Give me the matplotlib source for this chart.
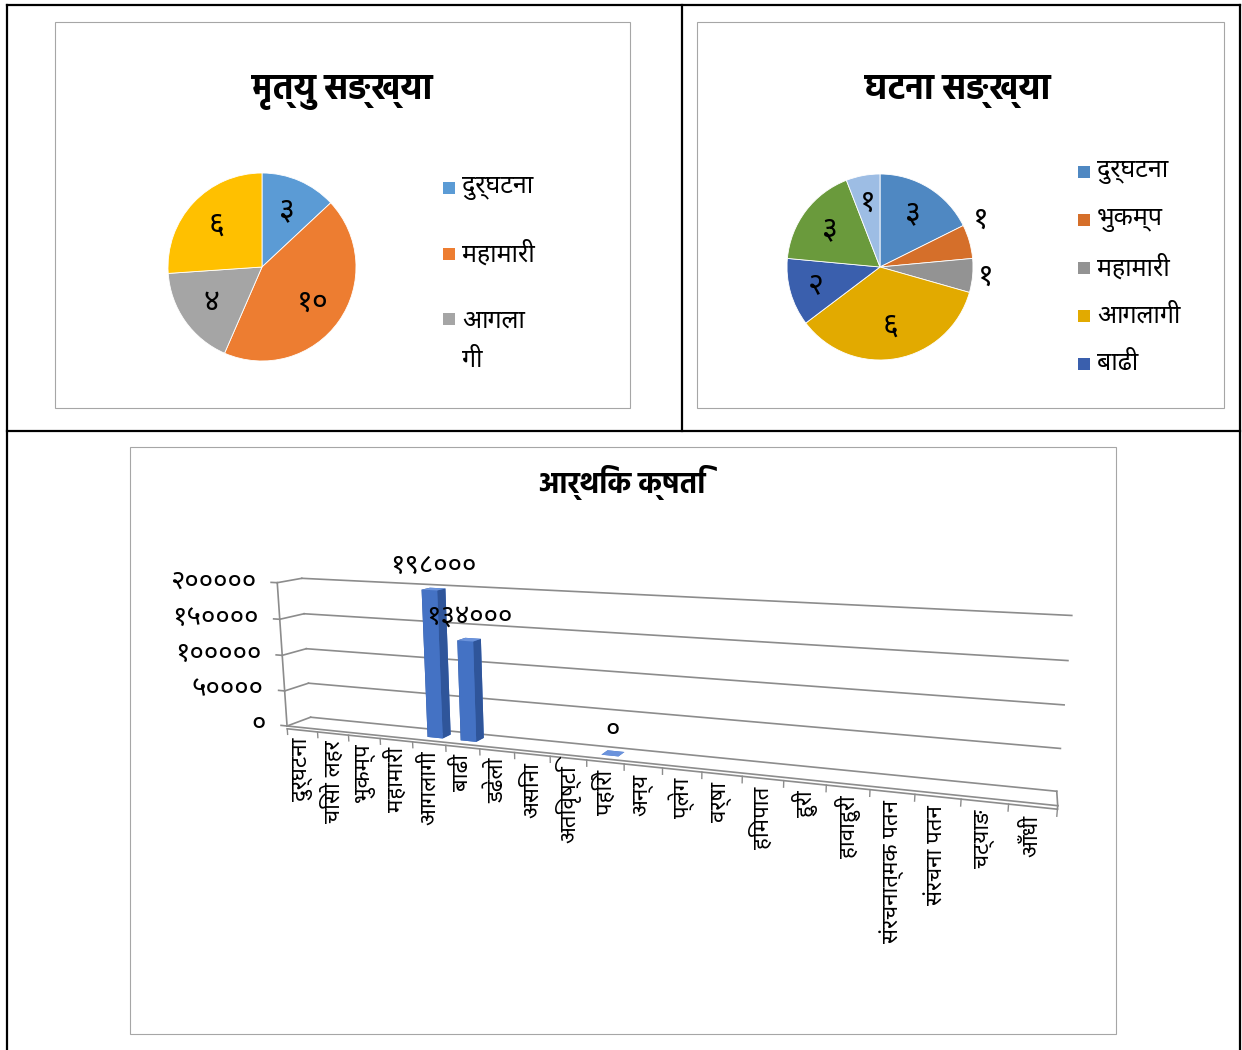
import matplotlib
matplotlib.use("Agg")
import matplotlib.pyplot as plt
from matplotlib.lines import Line2D
from matplotlib.patches import Rectangle
from mpl_toolkits.mplot3d import proj3d
import numpy as np

BODY = ['Noto Sans Devanagari', 'Hind', 'DejaVu Sans']
HEAD = ['Hind', 'Noto Sans Devanagari', 'DejaVu Sans']
plt.rcParams['font.family'] = BODY

# ---- data ----
# death count pie (4th slice label is hidden in the original legend)
death_labels = ['दुर्घटना', 'महामारी', 'आगलागी', 'बाढी']
death_values = [3, 10, 4, 6]
death_colors = ['#5b9bd5', '#ed7d31', '#a5a5a5', '#ffc000']

# event count pie (last two legend entries are cut off in the original)
event_labels = ['दुर्घटना', 'भुकम्प', 'महामारी', 'आगलागी', 'बाढी', 'पहिरो', 'अन्य']
event_values = [3, 1, 1, 6, 2, 3, 1]
event_colors = ['#4f88c2', '#d56f2a', '#939393', '#e2aa00', '#3a5fad', '#6a9a3c', '#9dbde4']

# economic loss 3d bars
loss_categories = ['दुर्घटना', 'चिसो लहर', 'भुकम्प', 'महामारी', 'आगलागी', 'बाढी',
                   'डढेलो', 'असिना', 'अतिवृष्टि', 'पहिरो', 'अन्य', 'प्लेग', 'वर्षा',
                   'हिमपात', 'हुरी', 'हावाहुरी', 'संरचनात्मक पतन', 'संरचना पतन',
                   'चट्याङ', 'आँधी']
loss_values = [None, None, None, None, 198000, 134000, None, None, None, 0,
               None, None, None, None, None, None, None, None, None, None]
loss_ticks = [0, 50000, 100000, 150000, 200000]

DEV = str.maketrans('0123456789', '०१२३४५६७८९')


def dev(n):
    return str(n).translate(DEV)


W, H = 1242, 1050
fig = plt.figure(figsize=(W / 100, H / 100), dpi=100)


def fx(px):
    return px / W


def fy(py):
    return 1 - py / H


# table borders
for xs, ys in [([7, 1240], [5, 5]), ([7, 1240], [431, 431]), ([7, 7], [5, 1050]),
               ([1240, 1240], [5, 1050]), ([682, 682], [5, 431])]:
    fig.add_artist(Line2D([fx(v) for v in xs], [fy(v) for v in ys], color='black', lw=1.6))

# chart frames
for x0, y0, x1, y1 in [(55, 22, 630, 408), (697, 22, 1224, 408), (130, 447, 1116, 1034)]:
    fig.add_artist(Rectangle((fx(x0), fy(y1)), fx(x1) - fx(x0), fy(y0) - fy(y1),
                             fill=False, ec='#a6a6a6', lw=0.8, transform=fig.transFigure))


def pie_axes(cx, cy, r, lim=1.3):
    side = 2 * lim * r
    return fig.add_axes([fx(cx - side / 2), fy(cy + side / 2), side / W, side / H])


def legend_entries(wedges, labels, x, ys, fontsize=18):
    # small square marker + label, like the spreadsheet legend
    for w, lab, y in zip(wedges, labels, ys):
        fig.add_artist(Rectangle((fx(x), fy(y + 6)), 12 / W, 12 / H, fc=w.get_facecolor(),
                                 ec='none', transform=fig.transFigure))
        nl = lab.count('\n')
        fig.text(fx(x + 19), fy(y + 21.5 * nl), lab, ha='left', va='center',
                 fontsize=fontsize, linespacing=1.75)


# ---- pie 1 : death count ----
ax1 = pie_axes(262, 267, 94)
wedges1, _ = ax1.pie(death_values, colors=death_colors, startangle=90, counterclock=False,
                     wedgeprops=dict(edgecolor='white', linewidth=0.6))
for w, v in zip(wedges1, death_values):
    a = np.deg2rad((w.theta1 + w.theta2) / 2)
    ax1.text(0.66 * np.cos(a), 0.66 * np.sin(a), dev(v), ha='center', va='center', fontsize=22)
ax1.set_xlim(-1.3, 1.3)
ax1.set_ylim(-1.3, 1.3)
fig.text(fx(342), fy(92), 'मृत्यु सङ्ख्या', ha='center', va='center', fontsize=25,
         fontweight='bold', family=HEAD)
legend_entries(wedges1[:3], ['दुर्घटना', 'महामारी', 'आगला\nगी'], 443, [188, 254, 319])

# ---- pie 2 : event count ----
ax2 = pie_axes(880, 267, 93)
wedges2, _ = ax2.pie(event_values, colors=event_colors, startangle=90, counterclock=False,
                     wedgeprops=dict(edgecolor='white', linewidth=0.6))
label_dist2 = [0.68, 1.2, 1.14, 0.64, 0.72, 0.68, 0.7]
label_shift2 = [0, 9, 0, 0, 0, 0, 0]
for w, v, d, s in zip(wedges2, event_values, label_dist2, label_shift2):
    a = np.deg2rad((w.theta1 + w.theta2) / 2 + s)
    ax2.text(d * np.cos(a), d * np.sin(a), dev(v), ha='center', va='center', fontsize=22)
ax2.set_xlim(-1.3, 1.3)
ax2.set_ylim(-1.3, 1.3)
fig.text(fx(958), fy(92), 'घटना सङ्ख्या', ha='center', va='center', fontsize=25,
         fontweight='bold', family=HEAD)
legend_entries(wedges2[:5], event_labels[:5], 1078, [172, 220, 268, 316, 364])

# ---- 3d bar chart : economic loss ----
fig.text(fx(622), fy(483), 'आर्थिक क्षति', ha='center', va='center', fontsize=21,
         fontweight='bold', family=HEAD)

side = 1000
ax3 = fig.add_axes([fx(618 - side / 2), fy(691 + side / 2), side / W, side / H], projection='3d')
ax3.patch.set_facecolor('none')
ax3.set_axis_off()
ax3.set_proj_type('persp', focal_length=0.2)
ax3.view_init(elev=12, azim=-70)
ax3.set_box_aspect((1.5, 0.08, 0.30), zoom=0.8)

n = len(loss_categories)
zmax = loss_ticks[-1]
ax3.set_xlim(0, n)
ax3.set_ylim(0, 1)
ax3.set_zlim(0, zmax)
M = ax3.get_proj()


def to2d(xs, ys, zs):
    p = proj3d.proj_transform(np.atleast_1d(np.asarray(xs, float)),
                              np.atleast_1d(np.asarray(ys, float)),
                              np.atleast_1d(np.asarray(zs, float)), M)
    return p[0], p[1]


grid_c = '#8c8c8c'
slab = 0.02 * zmax
tick = 0.04 * zmax
for z in loss_ticks:
    ax3.plot([0, n], [1, 1], [z, z], color=grid_c, lw=1.2)      # back wall
    ax3.plot([0, 0], [0, 1], [z, z], color=grid_c, lw=1.2)      # side wall
    ax3.plot([-0.2, 0], [0, 0], [z, z], color=grid_c, lw=1.2)   # tick
tx, ty = to2d(np.full(len(loss_ticks), -0.7), np.zeros(len(loss_ticks)), loss_ticks)
for x, y, z in zip(tx, ty, loss_ticks):
    ax3.text2D(x, y, dev(z), transform=ax3.transData, ha='right', va='center', fontsize=20)
ax3.plot([0, 0], [0, 0], [0, zmax], color=grid_c, lw=1.2)
# floor slab
ax3.plot([0, n], [0, 0], [0, 0], color=grid_c, lw=1.2)
ax3.plot([0, n], [0, 0], [-slab, -slab], color=grid_c, lw=1.2)
ax3.plot([n, n], [0, 1], [0, 0], color=grid_c, lw=1.2)
ax3.plot([n, n], [0, 0], [0, -slab], color=grid_c, lw=1.2)
for i in range(n + 1):
    ax3.plot([i, i], [0, 0], [-slab, -slab - tick], color=grid_c, lw=1.0)

# bars: faces are -z, +z, -y, +y, -x, +x
face_cols = ['#4472c4', '#6b93dc', '#4472c4', '#4472c4', '#2f559a', '#2f559a']
for i, v in enumerate(loss_values):
    if v is None:
        continue
    ax3.bar3d(i + 0.27, 0.3, 0, 0.46, 0.4, v, color=face_cols, shade=False)
    lx, ly = to2d(i + 0.5, 0.5, v + 0.06 * zmax)
    ax3.text2D(lx[0], ly[0], dev(v), transform=ax3.transData, ha='center', va='bottom',
               fontsize=20, zorder=60)

# category labels, rotated upright under the floor edge
cx, cy = to2d(np.arange(n) + 0.5, np.zeros(n), np.full(n, -slab - tick * 1.2))
for x, y, lab in zip(cx, cy, loss_categories):
    ax3.text2D(x, y, lab, transform=ax3.transData, rotation=90, ha='center', va='top',
               fontsize=16)

fig.savefig('out.png', dpi=100)
